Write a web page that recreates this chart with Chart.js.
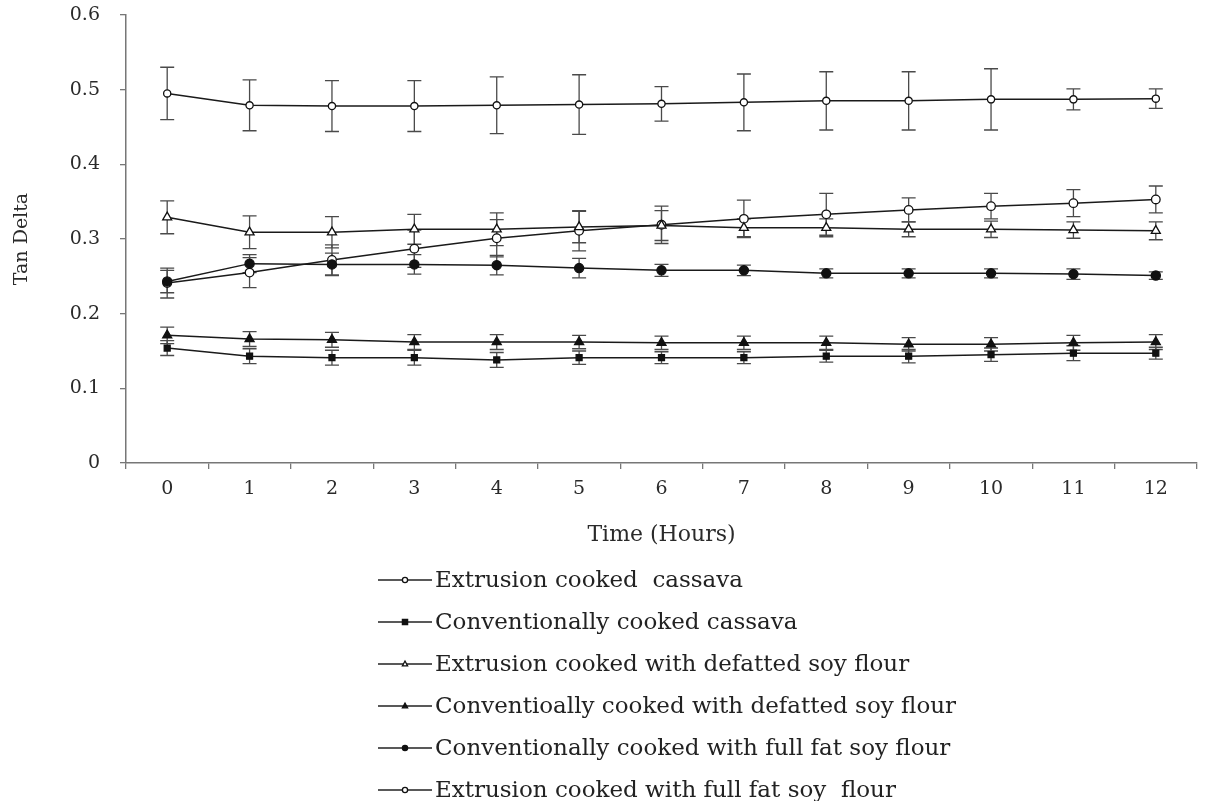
<!DOCTYPE html>
<html>
<head>
<meta charset="utf-8">
<title>Tan Delta vs Time</title>
<script src="https://cdn.jsdelivr.net/npm/chart.js@4.4.1/dist/chart.umd.min.js"></script>
<style>
    html, body { margin: 0; padding: 0; background: #ffffff; }
    #wrap { width: 1206px; height: 801px; }
</style>
</head>
<body>
<div id="wrap"><canvas id="chart" width="1206" height="801"></canvas></div>
<script>
// hours 0..12
const hours = ["0", "1", "2", "3", "4", "5", "6", "7", "8", "9", "10", "11", "12"];
const yTicks = [0, 0.1, 0.2, 0.3, 0.4, 0.5, 0.6];

const seriesNames = [
    "Extrusion cooked  cassava",
    "Conventionally cooked cassava",
    "Extrusion cooked with defatted soy flour",
    "Conventioally cooked with defatted soy flour",
    "Conventionally cooked with full fat soy flour",
    "Extrusion cooked with full fat soy  flour"
];

const extCassava = [0.495, 0.479, 0.478, 0.478, 0.479, 0.480, 0.481, 0.483, 0.485, 0.485, 0.487, 0.487, 0.488];
const extCassavaErr = [0.035, 0.034, 0.034, 0.034, 0.038, 0.040, 0.023, 0.038, 0.039, 0.039, 0.041, 0.014, 0.013];

const convCassava = [0.154, 0.143, 0.141, 0.141, 0.138, 0.141, 0.141, 0.141, 0.143, 0.143, 0.145, 0.147, 0.147];
const convCassavaErr = [0.010, 0.010, 0.010, 0.010, 0.010, 0.009, 0.008, 0.008, 0.008, 0.009, 0.009, 0.010, 0.008];

const extDefatted = [0.329, 0.309, 0.309, 0.313, 0.313, 0.316, 0.318, 0.315, 0.315, 0.313, 0.313, 0.312, 0.311];
const extDefattedErr = [0.022, 0.022, 0.021, 0.020, 0.022, 0.021, 0.020, 0.012, 0.012, 0.010, 0.011, 0.011, 0.012];

const convDefatted = [0.171, 0.166, 0.165, 0.162, 0.162, 0.162, 0.161, 0.161, 0.161, 0.159, 0.159, 0.161, 0.162];
const convDefattedErr = [0.011, 0.010, 0.010, 0.010, 0.010, 0.009, 0.009, 0.009, 0.009, 0.009, 0.009, 0.010, 0.010];

const convFullFat = [0.243, 0.267, 0.266, 0.266, 0.265, 0.261, 0.258, 0.258, 0.254, 0.254, 0.254, 0.253, 0.251];
const convFullFatErr = [0.015, 0.012, 0.015, 0.013, 0.013, 0.013, 0.008, 0.007, 0.006, 0.006, 0.006, 0.007, 0.005];

const extFullFat = [0.241, 0.255, 0.272, 0.287, 0.301, 0.311, 0.319, 0.327, 0.333, 0.339, 0.344, 0.348, 0.353];
const extFullFatErr = [0.020, 0.020, 0.020, 0.025, 0.025, 0.027, 0.025, 0.025, 0.028, 0.016, 0.017, 0.018, 0.018];

function drawMarker(ctx, style, radius, filled, x, y) {
    ctx.beginPath();
    if (style === "rect") {
        ctx.rect(x - radius, y - radius, radius * 2, radius * 2);
    } else if (style === "triangle") {
        ctx.moveTo(x, y - radius * 1.15);
        ctx.lineTo(x + radius, y + radius * 0.7);
        ctx.lineTo(x - radius, y + radius * 0.7);
        ctx.closePath();
    } else {
        ctx.arc(x, y, radius, 0, Math.PI * 2);
    }
    ctx.fillStyle = filled ? "#111111" : "#ffffff";
    ctx.fill();
    ctx.strokeStyle = "#111111";
    ctx.lineWidth = 1.3;
    ctx.stroke();
}

const errorBars = {
    id: "errorBars",
    beforeDatasetsDraw(chart) {
        const ctx = chart.ctx;
        const yScale = chart.scales.y;
        chart.data.datasets.forEach((ds, i) => {
            const meta = chart.getDatasetMeta(i);
            ctx.save();
            ctx.strokeStyle = "#4a4a4a";
            ctx.lineWidth = 1.3;
            meta.data.forEach((pt, j) => {
                const top = yScale.getPixelForValue(ds.data[j] + ds.errors[j]);
                const bot = yScale.getPixelForValue(ds.data[j] - ds.errors[j]);
                ctx.beginPath();
                ctx.moveTo(pt.x, top);
                ctx.lineTo(pt.x, bot);
                ctx.moveTo(pt.x - 7, top);
                ctx.lineTo(pt.x + 7, top);
                ctx.moveTo(pt.x - 7, bot);
                ctx.lineTo(pt.x + 7, bot);
                ctx.stroke();
            });
            ctx.restore();
        });
    }
};

// legend stacked under the axis title, one entry per line
const stackedLegend = {
    id: "stackedLegend",
    afterDraw(chart) {
        const ctx = chart.ctx;
        const x0 = 378;
        const y0 = 580;
        const rowGap = 42;
        ctx.save();
        chart.data.datasets.forEach((ds, i) => {
            const y = y0 + i * rowGap;
            ctx.strokeStyle = "#222222";
            ctx.lineWidth = 1.5;
            ctx.beginPath();
            ctx.moveTo(x0, y);
            ctx.lineTo(x0 + 54, y);
            ctx.stroke();
            drawMarker(ctx, ds.pointStyle, 2.6, ds.pointBackgroundColor !== "#ffffff", x0 + 27, y);
            ctx.fillStyle = "#222222";
            ctx.font = "23px 'DejaVu Serif'";
            ctx.textBaseline = "middle";
            ctx.textAlign = "left";
            ctx.fillText(ds.label, x0 + 57, y + 1);
        });
        ctx.restore();
    }
};

function makeSeries(label, data, errors, style, radius, filled) {
    return {
        label: label,
        data: data,
        errors: errors,
        borderColor: "#1a1a1a",
        borderWidth: 1.5,
        tension: 0,
        pointStyle: style,
        pointRadius: radius,
        pointBorderWidth: 1.3,
        pointBorderColor: "#111111",
        pointBackgroundColor: filled ? "#111111" : "#ffffff",
        fill: false
    };
}

const datasets = [
    makeSeries(seriesNames[0], extCassava, extCassavaErr, "circle", 3.6, false),
    makeSeries(seriesNames[1], convCassava, convCassavaErr, "rect", 4.2, true),
    makeSeries(seriesNames[2], extDefatted, extDefattedErr, "triangle", 5.2, false),
    makeSeries(seriesNames[3], convDefatted, convDefattedErr, "triangle", 5.2, true),
    makeSeries(seriesNames[4], convFullFat, convFullFatErr, "circle", 4.6, true),
    makeSeries(seriesNames[5], extFullFat, extFullFatErr, "circle", 4.3, false)
];

Chart.defaults.font.family = "'DejaVu Serif', serif";
Chart.defaults.color = "#2a2a2a";

new Chart(document.getElementById("chart"), {
    type: "line",
    data: {
        labels: hours,
        datasets: datasets
    },
    options: {
        responsive: false,
        devicePixelRatio: 1,
        animation: false,
        layout: {
            padding: { top: 15, right: 9, bottom: 248, left: 0 }
        },
        plugins: {
            legend: { display: false },
            tooltip: { enabled: false }
        },
        scales: {
            x: {
                type: "category",
                offset: true,
                afterFit: function (scale) {
                    scale.height = 90;
                },
                grid: {
                    offset: true,
                    drawOnChartArea: false,
                    tickLength: 6,
                    color: "#777777",
                    lineWidth: 1.3
                },
                border: { color: "#777777", width: 1.5 },
                ticks: {
                    padding: 9,
                    maxRotation: 0,
                    font: { size: 19 }
                },
                title: {
                    display: true,
                    text: "Time (Hours)",
                    font: { size: 22 },
                    padding: { top: 0, bottom: 5 }
                }
            },
            y: {
                min: 0,
                max: 0.6,
                afterFit: function (scale) {
                    scale.width = 126;
                    scale.paddingTop = 0;
                    scale.paddingBottom = 0;
                },
                afterBuildTicks: function (scale) {
                    scale.ticks = yTicks.map(v => ({ value: v }));
                },
                grid: {
                    drawOnChartArea: false,
                    tickLength: 6,
                    color: "#777777",
                    lineWidth: 1.3
                },
                border: { color: "#777777", width: 1.5 },
                ticks: {
                    padding: 20,
                    font: { size: 19 },
                    callback: function (value) {
                        return String(Math.round(value * 10) / 10);
                    }
                },
                title: {
                    display: true,
                    text: "Tan Delta",
                    font: { size: 19 },
                    padding: { top: 11, bottom: 0 }
                }
            }
        }
    },
    plugins: [errorBars, stackedLegend]
});
</script>
</body>
</html>
